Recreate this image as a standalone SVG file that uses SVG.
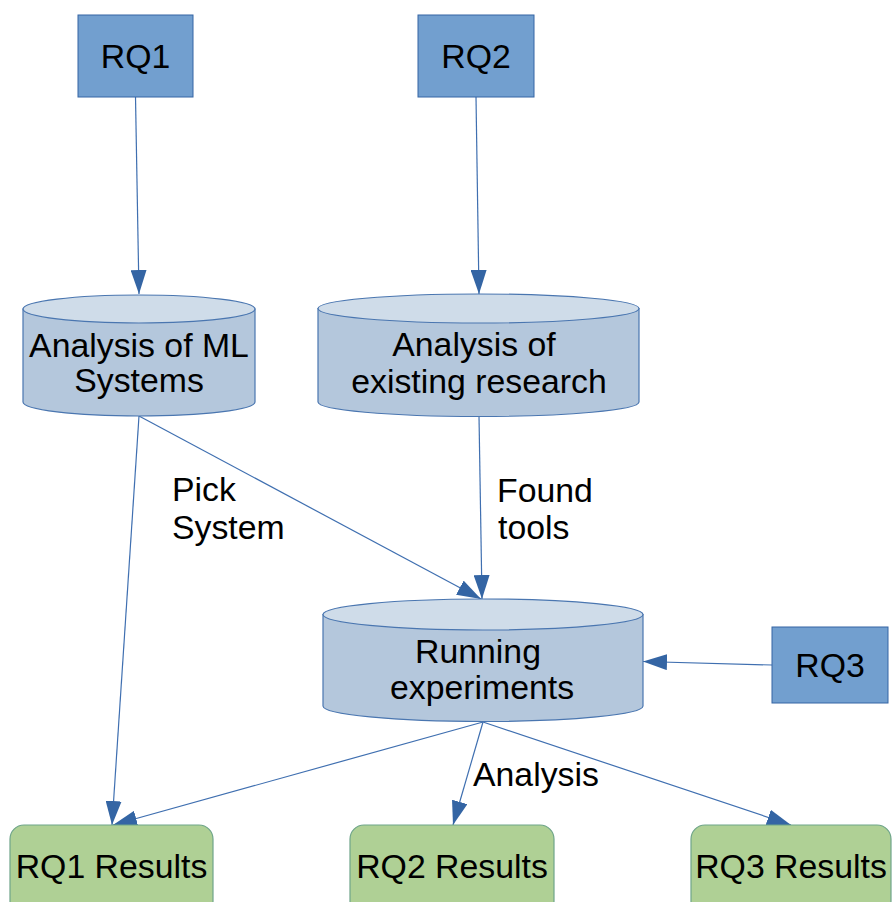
<svg xmlns="http://www.w3.org/2000/svg" width="893" height="902" viewBox="0 0 893 902">
<style>
text{font-family:"Liberation Sans",Arial,sans-serif;font-size:33.8px;fill:#000}
.c{text-anchor:middle}
.rq{fill:#729fcf;stroke:#3465a4;stroke-width:1}
.cyl{fill:#b4c7dc;stroke:#4a76b0;stroke-width:1.2}
.top{fill:#cfdce9;stroke:#4a76b0;stroke-width:1.2}
.res{fill:#afd095;stroke:#6fa58a;stroke-width:1.2}
.edge{fill:none;stroke:#3f6fb0;stroke-width:1.2;marker-end:url(#ah)}
</style>
<defs>
<marker id="ah" markerUnits="userSpaceOnUse" markerWidth="24" markerHeight="16" refX="24" refY="8" orient="auto" viewBox="0 0 24 16">
<path d="M0,0 L24,8 L0,16 Z" fill="#3465a4"/>
</marker>
</defs>
<rect width="893" height="902" fill="#fff"/>
<g id="connectors">
<line class="edge" x1="135.5" y1="97" x2="139" y2="294"/>
<line class="edge" x1="476" y1="97" x2="479" y2="294"/>
<line class="edge" x1="139" y1="416" x2="481" y2="599"/>
<line class="edge" x1="479" y1="416" x2="482" y2="599"/>
<line class="edge" x1="139" y1="416" x2="112" y2="825"/>
<line class="edge" x1="772" y1="665" x2="643" y2="661.5"/>
<line class="edge" x1="483" y1="722" x2="113" y2="825"/>
<line class="edge" x1="483" y1="722" x2="453" y2="825"/>
<line class="edge" x1="483" y1="722" x2="791" y2="825"/>
<text x="172" y="501">Pick</text>
<text x="172" y="539">System</text>
<text x="497" y="502">Found</text>
<text x="498" y="539">tools</text>
<text x="473" y="786">Analysis</text>
</g>
<g id="rq1">
<rect class="rq" x="78" y="15" width="115" height="82"/>
<text class="c" x="135.5" y="68">RQ1</text>
</g>
<g id="rq2">
<rect class="rq" x="418" y="15" width="116" height="82"/>
<text class="c" x="476" y="68">RQ2</text>
</g>
<g id="rq3">
<rect class="rq" x="772" y="627" width="116" height="76"/>
<text class="c" x="830" y="677">RQ3</text>
</g>
<g id="analysis-ml">
<path class="cyl" d="M23,309 L23,402 A116,14 0 0 0 255,402 L255,309 Z"/>
<ellipse class="top" cx="139" cy="309" rx="116" ry="14"/>
<text class="c" x="139" y="357">Analysis of ML</text>
<text class="c" x="139" y="392">Systems</text>
</g>
<g id="analysis-research">
<path class="cyl" d="M318,308.5 L318,402 A160.5,14.5 0 0 0 639,402 L639,308.5 Z"/>
<ellipse class="top" cx="478.5" cy="308.5" rx="160.5" ry="14.5"/>
<text class="c" x="474" y="356">Analysis of</text>
<text class="c" x="479" y="393">existing research</text>
</g>
<g id="running">
<path class="cyl" d="M323,614.5 L323,706 A160,15.5 0 0 0 643,706 L643,614.5 Z"/>
<ellipse class="top" cx="483" cy="614.5" rx="160" ry="15.5"/>
<text class="c" x="478" y="663">Running</text>
<text class="c" x="482" y="699">experiments</text>
</g>
<g id="rq1-results">
<rect class="res" x="10" y="825" width="203" height="90" rx="14"/>
<text class="c" x="111.5" y="878">RQ1 Results</text>
</g>
<g id="rq2-results">
<rect class="res" x="350" y="825" width="204" height="90" rx="14"/>
<text class="c" x="452" y="878">RQ2 Results</text>
</g>
<g id="rq3-results">
<rect class="res" x="691" y="825" width="200" height="90" rx="14"/>
<text class="c" x="791" y="878">RQ3 Results</text>
</g>
</svg>
